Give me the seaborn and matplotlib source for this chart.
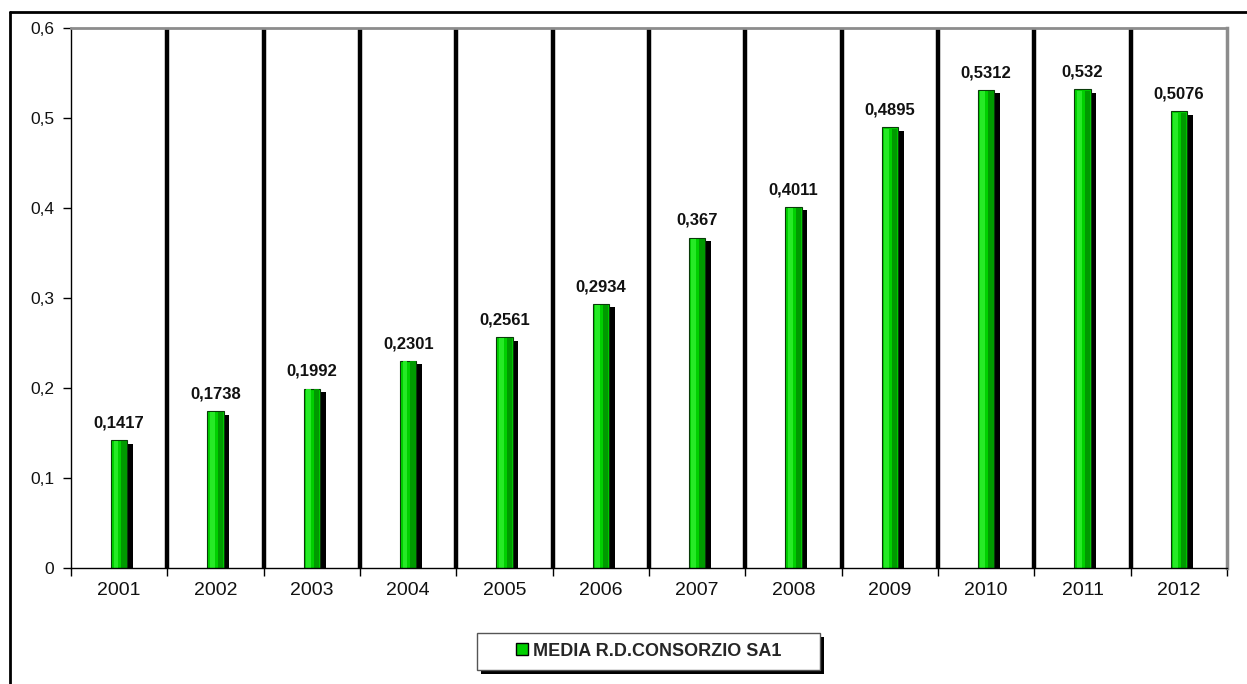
import matplotlib
matplotlib.use("Agg")
import matplotlib.pyplot as plt
import matplotlib.patheffects as pe
from matplotlib.lines import Line2D
from matplotlib.patches import Patch, Rectangle
import seaborn as sns
import pandas as pd

years = ["2001", "2002", "2003", "2004", "2005", "2006",
         "2007", "2008", "2009", "2010", "2011", "2012"]
values = [0.1417, 0.1738, 0.1992, 0.2301, 0.2561, 0.2934,
          0.367, 0.4011, 0.4895, 0.5312, 0.532, 0.5076]
value_labels = ["0,1417", "0,1738", "0,1992", "0,2301", "0,2561", "0,2934",
                "0,367", "0,4011", "0,4895", "0,5312", "0,532", "0,5076"]
series_name = "MEDIA R.D.CONSORZIO SA1"
y_ticks = [0, 0.1, 0.2, 0.3, 0.4, 0.5, 0.6]
y_tick_labels = ["0", "0,1", "0,2", "0,3", "0,4", "0,5", "0,6"]

sns.set_theme(style="white")
plt.rcParams["font.family"] = ["Liberation Sans", "DejaVu Sans"]

df = pd.DataFrame({"anno": years, "valore": values})

fig = plt.figure(figsize=(12.47, 6.84), dpi=100)
ax = fig.add_axes([0.057, 0.170, 0.927, 0.789])

sns.barplot(data=df, x="anno", y="valore", color="#00d000", width=0.17,
            saturation=1, edgecolor="#0a3a0a", linewidth=0.8, ax=ax)

# drop shadow and darker right side for a raised look
for bar in ax.patches:
    bar.set_path_effects([
        pe.SimplePatchShadow(offset=(4, -2.5), shadow_rgbFace="black", alpha=1.0),
        pe.Normal(),
    ])
    x0 = bar.get_x()
    w = bar.get_width()
    h = bar.get_height()
    ax.fill_between([x0 + w * 0.62, x0 + w * 0.95], 0, h * 0.997, color="#009a00", lw=0, zorder=bar.get_zorder() + 0.1)
    ax.fill_between([x0 + w * 0.15, x0 + w * 0.45], 0, h * 0.997, color="#26ea26", lw=0, zorder=bar.get_zorder() + 0.1)

# value labels above bars
for i, (v, lab) in enumerate(zip(values, value_labels)):
    ax.annotate(lab, (i, v), xytext=(0, 7), textcoords="offset points",
                ha="center", va="bottom", fontsize=12, fontweight="bold", color="#111111")

# thick separators between categories
for b in range(1, len(years)):
    ax.axvline(b - 0.5, color="black", lw=3.2, zorder=0.5)

ax.set_xlim(-0.5, len(years) - 0.5)
ax.set_ylim(0, 0.6)
ax.set_yticks(y_ticks)
ax.set_yticklabels(y_tick_labels, fontsize=12.5)
ax.set_xlabel("")
ax.set_ylabel("")
ax.tick_params(axis="x", which="major", length=0, labelsize=14, pad=10, labelcolor="#111111")
ax.set_xticks([i - 0.5 for i in range(len(years) + 1)], minor=True)
ax.tick_params(axis="x", which="minor", length=6, width=1, direction="out", color="black", bottom=True)
ax.tick_params(axis="y", length=6, width=1, direction="out", color="black", left=True, pad=6, labelcolor="#111111")

for s in ["left", "bottom"]:
    ax.spines[s].set_color("black")
    ax.spines[s].set_linewidth(1.0)
ax.spines["top"].set_color("#8c8c8c")
ax.spines["top"].set_linewidth(2.0)
ax.spines["right"].set_color("#8c8c8c")
ax.spines["right"].set_linewidth(2.5)

# outer chart frame
fig.add_artist(Line2D([0.008, 0.008], [0.0, 0.9825], transform=fig.transFigure, color="black", lw=2))
fig.add_artist(Line2D([0.008, 1.0], [0.9825, 0.9825], transform=fig.transFigure, color="black", lw=2))

# legend box with a drop shadow
W, H = 1247, 684
box = Rectangle((477 / W, 1 - 670 / H), 343 / W, 37 / H, transform=fig.transFigure,
                facecolor="white", edgecolor="#555555", lw=1.0, zorder=5)
box.set_path_effects([pe.SimplePatchShadow(offset=(3, -3), shadow_rgbFace="black", alpha=1.0), pe.Normal()])
fig.add_artist(box)

handle = Patch(facecolor="#00d000", edgecolor="black", linewidth=1.0)
leg = fig.legend([handle], [series_name], loc="center", bbox_to_anchor=(649 / W, 1 - 651 / H),
                 frameon=False, prop={"weight": "bold", "size": 13},
                 handlelength=0.65, handleheight=0.65, handletextpad=0.3, borderaxespad=0)
leg.set_zorder(6)
fig.savefig("out.png", dpi=100)
